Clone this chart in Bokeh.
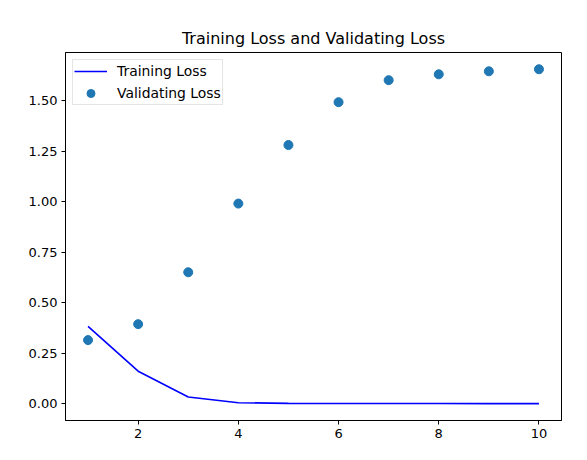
from bokeh.plotting import figure
from bokeh.embed import file_html
from bokeh.resources import INLINE
from bokeh.models import Range1d, FixedTicker, NumeralTickFormatter

# values
epochs = [1, 2, 3, 4, 5, 6, 7, 8, 9, 10]
training_loss = [0.383, 0.161, 0.033, 0.005, 0.002, 0.001, 0.001, 0.0008, 0.0006, 0.0005]
validating_loss = [0.315, 0.394, 0.651, 0.991, 1.281, 1.493, 1.602, 1.631, 1.646, 1.656]

x_ticks = [2, 4, 6, 8, 10]
y_ticks = [0.0, 0.25, 0.5, 0.75, 1.0, 1.25, 1.5]

FONT = "DejaVu Sans"

p = figure(
    width=578, height=451,
    x_range=Range1d(0.55, 10.45),
    y_range=Range1d(-0.083, 1.739),
    output_backend="svg",
    toolbar_location=None,
    min_border_left=65, min_border_right=17,
    min_border_top=52, min_border_bottom=31,
)

p.title.text = "Training Loss and Validating Loss"
p.title.align = "center"
p.title.text_font = FONT
p.title.text_font_size = "16px"
p.title.text_font_style = "normal"
p.title.text_color = "black"
p.title.offset = 0

p.line(epochs, training_loss, line_color="blue", line_width=1.6,
       legend_label="Training Loss")
p.scatter(epochs, validating_loss, size=9, fill_color="#1f77b4",
          line_color="#1f77b4", legend_label="Validating Loss")

p.xgrid.grid_line_color = None
p.ygrid.grid_line_color = None
p.outline_line_color = "black"
p.outline_line_width = 1

p.xaxis.ticker = FixedTicker(ticks=x_ticks)
p.yaxis.ticker = FixedTicker(ticks=y_ticks)
p.yaxis.formatter = NumeralTickFormatter(format="0.00")

for ax in (p.xaxis, p.yaxis):
    ax.axis_line_color = "black"
    ax.major_tick_in = 0
    ax.major_tick_out = 4
    ax.minor_tick_line_color = None
    ax.major_label_text_font = FONT
    ax.major_label_text_font_size = "13px"
    ax.major_label_text_color = "black"
    ax.major_label_standoff = 4

p.legend.location = "top_left"
p.legend.margin = 7
p.legend.padding = 1
p.legend.spacing = 2
p.legend.label_height = 20
p.legend.glyph_height = 20
p.legend.glyph_width = 33
p.legend.label_standoff = 10
p.legend.label_text_font = FONT
p.legend.label_text_font_size = "13.9px"
p.legend.label_text_color = "black"
p.legend.border_line_color = "#cccccc"
p.legend.border_line_width = 1
p.legend.background_fill_alpha = 0.8

open("out.html", "w").write(file_html(p, INLINE))
